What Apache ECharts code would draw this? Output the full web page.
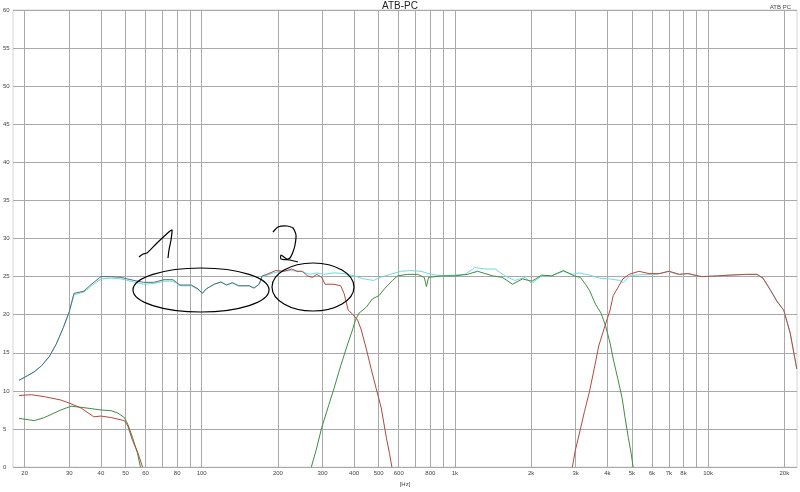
<!DOCTYPE html>
<html><head><meta charset="utf-8">
<script src="https://cdn.jsdelivr.net/npm/echarts@6/dist/echarts.min.js"></script>
<style>html,body{margin:0;padding:0;background:#fff}#c{width:800px;height:492px}</style>
</head><body><div id="c"></div>
<script>
// ---- data (frequency in Hz, level in dB) ----
const gridFreqs = [20,30,40,50,60,70,80,90,100,200,300,400,500,600,700,800,900,1000,2000,3000,4000,5000,6000,7000,8000,9000,10000,20000];
const labelFreqs = [20,30,40,50,60,80,100,200,300,400,500,600,800,1000,2000,3000,4000,5000,6000,7000,8000,10000,20000];

const sumFreq = [19,20.5,21.8,23.3,25,26.6,28.4,30,31.3,34.3,36.1,40,44,48,54,59,64.6,71,77,79.5,82,91,96.7,100.6,104.3,112,119,125.5,132,140,154,161,168.5,173.5,181,192.6,205,224,245,268,285,303,333,365,400,436,478,508,557,611,670,735,806,884,1000,1096,1200,1316,1443,1577,1728,1893,2010,2200,2410,2680,2920,3100,3400,3730,4090,4480,4620,4900,5550,6280,6920,7590,8330,9430,10900,12200,14200,15600,16500,17600,18700,19900,21100,22400];
const sumDb = [11.4,12.0,12.5,13.3,14.5,16.1,18.3,20.4,22.6,23.0,23.6,24.7,24.8,24.7,24.3,24.0,24.1,24.4,24.4,24.1,23.8,23.8,23.3,22.8,23.4,24.0,24.3,23.9,24.2,23.8,23.8,23.5,24.0,25.0,25.2,25.5,25.7,25.8,25.7,25.3,25.5,25.3,25.5,25.4,25.1,24.7,24.5,24.9,25.3,25.7,25.8,25.7,25.3,25.1,25.2,25.3,26.2,26.0,26.0,25.1,24.5,24.9,24.1,25.1,25.1,25.7,25.3,25.5,25.2,24.8,24.7,24.5,24.2,25.1,25.3,25.3,25.7,25.3,25.4,25.0,25.1,25.2,25.3,25.3,24.7,23.2,21.7,20.6,17.6,12.9];

const wooferFreq = [19,20.5,21.8,23.3,25,26.6,28.4,30,31.3,34.3,36.1,40,44,48,54,59,64.6,71,77,79.5,82,91,96.7,100.6,104.3,112,119,125.5,132,140,154,161,168.5,173.5,181,196,211,227,238,250,262,274,285,298,307,333,354,365,379,394,413,427,447,467,489,512,536,552,564];
const wooferDb = [11.4,12.0,12.5,13.3,14.5,16.1,18.3,20.4,22.8,23.1,23.8,25.0,25.0,24.9,24.5,24.25,24.25,24.6,24.6,24.25,23.9,23.9,23.4,22.8,23.4,24.0,24.3,23.9,24.2,23.8,23.8,23.5,24.0,25.1,25.3,25.8,25.7,26.0,25.7,25.7,25.1,24.9,25.3,24.9,24.0,24.0,23.8,22.8,20.6,20.1,19.3,18.0,15.5,12.9,10.3,7.75,3.9,1.76,0];

const midFreq = [271,283,298,318,333,354,375,394,405,418,447,473,501,527,567,594,650,713,757,772,787,884,1000,1120,1230,1410,1540,1690,1850,2015,2200,2410,2680,2960,3130,3280,3400,3590,3780,3940,4100,4220,4400,4580,4700,4840,4970,5060];
const midDb = [0,2.2,5.2,8.2,10.3,13.3,15.9,18.0,19.3,20.2,21.0,22.1,22.5,23.4,24.5,25.1,25.3,25.3,24.9,23.7,24.9,25.1,25.1,25.3,25.7,25.1,24.9,24.0,24.7,24.4,25.2,25.1,25.8,25.1,24.9,24.0,23.2,21.4,20.2,18.5,16.3,14.2,11.6,9.0,6.5,3.9,1.76,0];

const midLowFreq = [19,21.8,23.9,27.8,30.5,34.3,40,43.9,46.6,49.5,51.1,53.3,55.8,57.3];
const midLowDb = [6.4,6.1,6.5,7.5,8.0,7.8,7.5,7.4,7.1,6.5,5.6,3.9,1.8,0];

const tweeterFreq = [2910,2990,3120,3250,3400,3550,3700,3870,4100,4220,4410,4610,4880,5330,5850,6420,7030,7700,8330,9430,10900,12200,14200,15600,16500,17600,18700,19900,21100,22400];
const tweeterDb = [0,2.2,4.75,7.3,9.9,12.9,15.9,18.0,20.6,22.5,23.6,24.7,25.3,25.7,25.4,25.4,25.7,25.3,25.4,25.0,25.1,25.2,25.3,25.3,24.8,23.3,21.8,20.6,17.6,12.9];

const tweeterLowFreq = [19,21.2,23.9,27.8,30,33.4,37.5,40,43.9,49.5,51.1,53.3,55.8,58.4];
const tweeterLowDb = [9.4,9.5,9.25,8.8,8.4,7.75,6.6,6.7,6.5,6.1,5.4,3.5,2.0,0];

const yMin = 0, yMax = 60, yStep = 5;
const fMin = 17.98, fMax = 22450;
const wooferColorSplitHz = 181;

// ---- chart ----
const lg = v => Math.log10(v);
const pts = (f, d) => f.map((x, i) => [lg(x), d[i]]);
const fmtF = v => { const f = Math.round(Math.pow(10, v)); return f >= 1000 ? (f / 1000) + 'k' : String(f); };

const C_CYAN = '#6fdbe3', C_GREEN = '#3f8d42', C_RED = '#b3483e', C_DARK = '#4f6f78', C_WRED = '#a84a42';
const mk = (name, data, color) => ({
  type: 'line', name, data, showSymbol: false, symbol: 'none', animation: false,
  lineStyle: { width: 1, color }, itemStyle: { color }, z: 3
});
const FONT = 'Liberation Sans, Arial';

const wooferPts = pts(wooferFreq, wooferDb);
const splitIdx = wooferFreq.indexOf(wooferColorSplitHz);
const wooferLo = wooferPts.slice(0, splitIdx + 1);
const wooferHi = wooferPts.slice(splitIdx);

const chart = echarts.init(document.getElementById('c'), null, { renderer: 'canvas' });
chart.setOption({
  backgroundColor: '#fff',
  animation: false,
  title: [
    { text: 'ATB-PC', left: 'center', top: -4, textStyle: { fontSize: 10, fontWeight: 'normal', color: '#222', fontFamily: FONT } },
    { text: 'ATB PC', right: 4, top: -1, textStyle: { fontSize: 6, fontWeight: 'normal', color: '#444', fontFamily: FONT } }
  ],
  grid: { left: 12, right: 3, top: 10, bottom: 15, show: true, borderColor: '#d4d4d4', borderWidth: 1, containLabel: false },
  xAxis: {
    type: 'value', min: lg(fMin), max: lg(fMax),
    name: '[Hz]', nameLocation: 'middle', nameGap: 8,
    nameTextStyle: { fontSize: 6, color: '#444', fontFamily: FONT },
    axisLine: { show: false },
    axisTick: { show: false, customValues: gridFreqs.map(lg) },
    axisLabel: { customValues: labelFreqs.map(lg), formatter: fmtF, fontSize: 6, color: '#444', margin: 3, fontFamily: FONT, hideOverlap: false },
    splitLine: { show: true, lineStyle: { color: '#a9a9a9', width: 1 } }
  },
  yAxis: {
    type: 'value', min: yMin, max: yMax, interval: yStep,
    axisLine: { show: false }, axisTick: { show: false },
    axisLabel: { fontSize: 6, color: '#444', align: 'left', margin: 10, fontFamily: FONT },
    splitLine: { show: true, lineStyle: { color: '#a9a9a9', width: 1 } }
  },
  series: [
    mk('sum', pts(sumFreq, sumDb), C_CYAN),
    mk('midLow', pts(midLowFreq, midLowDb), C_GREEN),
    mk('tweeterLow', pts(tweeterLowFreq, tweeterLowDb), C_RED),
    mk('mid', pts(midFreq, midDb), C_GREEN),
    mk('tweeter', pts(tweeterFreq, tweeterDb), C_RED),
    mk('wooferLow', wooferLo, C_DARK),
    mk('wooferHigh', wooferHi, C_WRED)
  ],
  graphic: [
    { type: 'ellipse', shape: { cx: 201, cy: 290, rx: 68, ry: 22 }, style: { fill: 'none', stroke: '#000', lineWidth: 1.2 }, z: 10 },
    { type: 'ellipse', shape: { cx: 313, cy: 287, rx: 41, ry: 24 }, style: { fill: 'none', stroke: '#000', lineWidth: 1.2 }, z: 10 },
    { type: 'polyline', shape: { points: [[139,257],[143,254],[147,253],[157,243],[170,231],[172,230],[171,240],[169,250],[168,258]], smooth: 0.2 }, style: { fill: 'none', stroke: '#000', lineWidth: 1.2 }, z: 10 },
    { type: 'polyline', shape: { points: [[273,232],[278,227],[287,226],[293,228],[296,235],[295,245],[293,252],[290,258],[287,259],[281,255],[281,259],[290,260],[298,262]], smooth: 0.2 }, style: { fill: 'none', stroke: '#000', lineWidth: 1.2 }, z: 10 }
  ]
});
</script></body></html>
